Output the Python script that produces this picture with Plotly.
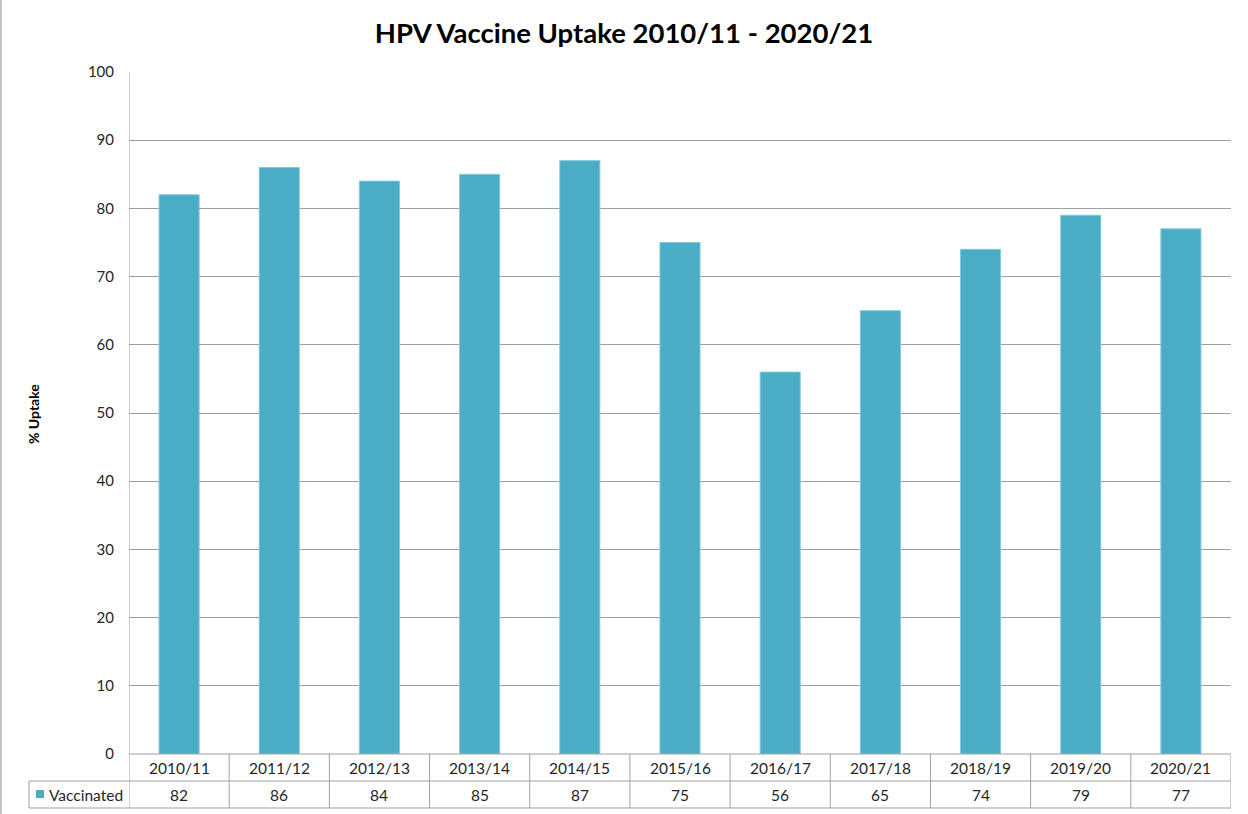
import plotly.graph_objects as go

categories = ["2010/11", "2011/12", "2012/13", "2013/14", "2014/15", "2015/16",
              "2016/17", "2017/18", "2018/19", "2019/20", "2020/21"]
vaccinated = [82, 86, 84, 85, 87, 75, 56, 65, 74, 79, 77]
y_ticks = [0, 10, 20, 30, 40, 50, 60, 70, 80, 90, 100]

W, H = 1248, 814
L, R, T, B = 129, 17, 72, 60
PH = H - T - B
PW = W - L - R

def py(pix):  # pixel y -> paper y
    return (H - B - pix) / PH

def px(pix):  # pixel x -> paper x
    return (pix - L) / PW

FONT = "Lato"
TXT = "#262626"
GRID = "#A0A0A0"
BAR = "#4BACC6"

n = len(categories)
xs = list(range(n))

fig = go.Figure()
fig.add_trace(go.Bar(
    x=xs, y=vaccinated, name="Vaccinated", width=0.4,
    marker=dict(color=BAR, line=dict(color="#86C8DA", width=1)),
    showlegend=False,
))

shapes = []
annotations = []
row1 = py(781)
row2 = py(808)
shapes.append(dict(type="line", xref="paper", yref="paper", x0=0, x1=1, y0=0, y1=0,
                   line=dict(color=GRID, width=1)))
for yy in (row1, row2):
    shapes.append(dict(type="line", xref="paper", yref="paper", x0=px(29), x1=1, y0=yy, y1=yy,
                       line=dict(color=GRID, width=1)))
for i in range(n + 1):
    xb = i - 0.5
    y_top = 1 if i == 0 else 0
    shapes.append(dict(type="line", xref="x", yref="paper", x0=xb, x1=xb, y0=y_top, y1=row2,
                       line=dict(color=GRID, width=1)))
shapes.append(dict(type="line", xref="paper", yref="paper", x0=px(29), x1=px(29), y0=row1, y1=row2,
                   line=dict(color=GRID, width=1)))
shapes.append(dict(type="rect", xref="paper", yref="paper", x0=px(36), x1=px(44),
                   y0=py(798), y1=py(790), fillcolor=BAR, line=dict(width=0)))
shapes.append(dict(type="line", xref="paper", yref="paper", x0=px(1), x1=px(1),
                   y0=py(0), y1=py(814), line=dict(color="#B0B0B0", width=1.5)))

TF = 15.5
for i, (c, v) in enumerate(zip(categories, vaccinated)):
    annotations.append(dict(x=i, y=(py(754) + row1) / 2, xref="x", yref="paper", text=c,
                            showarrow=False, xanchor="center", yanchor="middle",
                            font=dict(family=FONT, size=TF, color=TXT)))
    annotations.append(dict(x=i, y=(row1 + row2) / 2, xref="x", yref="paper", text=str(v),
                            showarrow=False, xanchor="center", yanchor="middle",
                            font=dict(family=FONT, size=TF, color=TXT)))
annotations.append(dict(x=px(47), y=(row1 + row2) / 2, xref="paper", yref="paper", text="Vaccinated",
                        showarrow=False, xanchor="left", yanchor="middle",
                        font=dict(family=FONT, size=TF, color=TXT)))
annotations.append(dict(x=px(33), y=py(414), xref="paper", yref="paper", text="<b>% Uptake</b>",
                        showarrow=False, xanchor="center", yanchor="middle", textangle=-90,
                        font=dict(family=FONT, size=14, color="#000000")))

fig.update_layout(
    width=W, height=H,
    margin=dict(l=L, r=R, t=T, b=B, autoexpand=False),
    paper_bgcolor="white", plot_bgcolor="white",
    title=dict(text="<b>HPV Vaccine Uptake 2010/11 - 2020/21</b>", x=0.5, xref="container",
               xanchor="center", y=1 - 33 / H, yref="container", yanchor="middle",
               font=dict(family=FONT, size=27.5, color="#000000")),
    xaxis=dict(range=[-0.5, n - 0.5], showticklabels=False, showgrid=False, zeroline=False,
               showline=False, ticks="", fixedrange=True),
    yaxis=dict(range=[0, 100], tickvals=y_ticks, showgrid=True, gridcolor=GRID, gridwidth=1,
               zeroline=False, showline=False, ticks="", ticklabelstandoff=14,
               tickfont=dict(family=FONT, size=15, color=TXT)),
    shapes=shapes, annotations=annotations,
    bargap=0.6,
)
fig.write_html("out.html", config={"displayModeBar": False},
               post_script="document.body.style.margin='0';document.body.style.overflow='hidden';")
